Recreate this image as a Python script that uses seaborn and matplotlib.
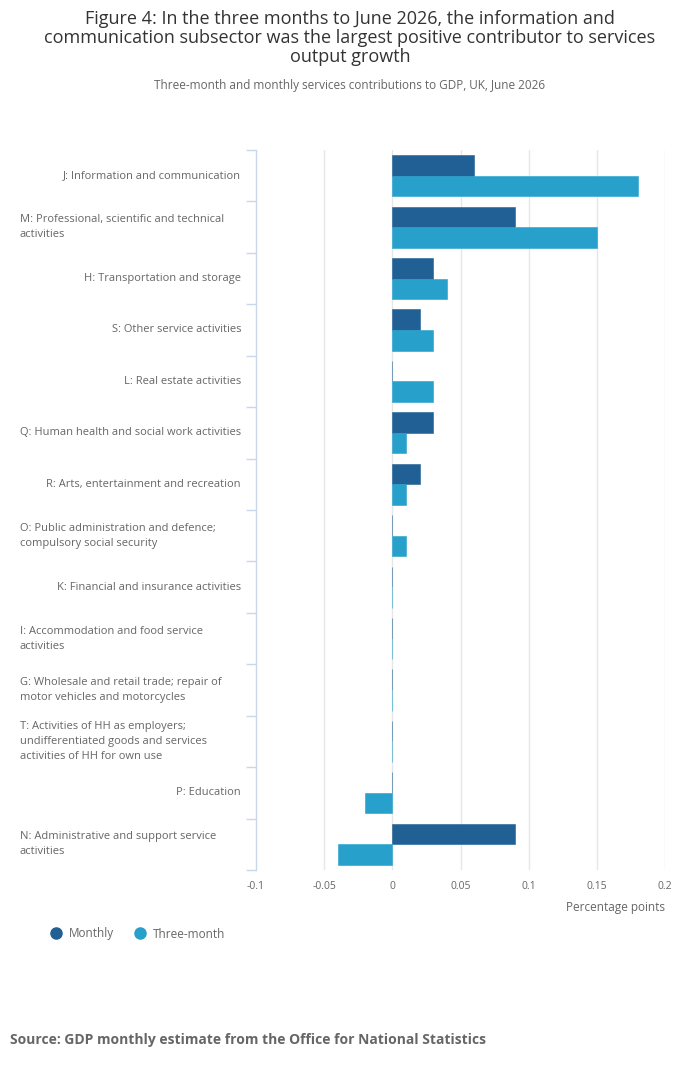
import matplotlib
matplotlib.use("Agg")
import matplotlib.pyplot as plt
import matplotlib.transforms as mtransforms
from matplotlib.lines import Line2D
import seaborn as sns
import pandas as pd
import numpy as np

categories = [
    "J: Information and communication",
    "M: Professional, scientific and technical\nactivities",
    "H: Transportation and storage",
    "S: Other service activities",
    "L: Real estate activities",
    "Q: Human health and social work activities",
    "R: Arts, entertainment and recreation",
    "O: Public administration and defence;\ncompulsory social security",
    "K: Financial and insurance activities",
    "I: Accommodation and food service\nactivities",
    "G: Wholesale and retail trade; repair of\nmotor vehicles and motorcycles",
    "T: Activities of HH as employers;\nundifferentiated goods and services\nactivities of HH for own use",
    "P: Education",
    "N: Administrative and support service\nactivities",
]
monthly = [0.06, 0.09, 0.03, 0.02, 0.0, 0.03, 0.02, 0.0, 0.0, 0.0, 0.0, 0.0, 0.0, 0.09]
three_month = [0.18, 0.15, 0.04, 0.03, 0.03, 0.01, 0.01, 0.01, 0.0, 0.0, 0.0, 0.0, -0.02, -0.04]
series_names = ["Monthly", "Three-month"]
x_ticks = [-0.1, -0.05, 0, 0.05, 0.1, 0.15, 0.2]
x_tick_labels = ["-0.1", "-0.05", "0", "0.05", "0.1", "0.15", "0.2"]

colors = {"Monthly": "#206095", "Three-month": "#27a0cc"}

df = pd.DataFrame({
    "category": categories * 2,
    "series": [series_names[0]] * len(categories) + [series_names[1]] * len(categories),
    "value": monthly + three_month,
})

sns.set_theme(style="white")
plt.rcParams["font.family"] = ["Open Sans", "DejaVu Sans"]

W, H = 700, 1067
fig = plt.figure(figsize=(7, 10.67), dpi=100)
ax = fig.add_axes([256 / W, 1 - 870 / H, (665 - 256) / W, (870 - 150) / H])

sns.barplot(data=df, y="category", x="value", hue="series", order=categories,
            hue_order=series_names, palette=colors, orient="h", width=0.8,
            ax=ax, legend=False, saturation=1, edgecolor=None, linewidth=0, zorder=3)
# thin outline so zero bars show as hairlines
for p in ax.patches:
    p.set_edgecolor(p.get_facecolor())
    p.set_linewidth(0.4)

ax.set_xlim(-0.1, 0.2)
ax.set_ylim(len(categories) - 0.5, -0.5)
ax.set_xticks(x_ticks)
ax.set_xticklabels(x_tick_labels, fontsize=7.5, color="#666666")
ax.tick_params(axis="x", length=0, pad=8)
for x in x_ticks[1:]:
    ax.axvline(x, color="#e6e6e6", lw=1, zorder=0)

for s in ["top", "right", "bottom"]:
    ax.spines[s].set_visible(False)
ax.spines["left"].set_color("#ccd6eb")
ax.spines["left"].set_linewidth(1)

ax.set_yticks([])
ax.set_yticks(np.arange(-0.5, len(categories), 1), minor=True)
ax.tick_params(axis="y", which="minor", length=7, color="#ccd6eb", width=1, left=True)
ax.set_ylabel("")
ax.set_xlabel("")

trans = mtransforms.blended_transform_factory(fig.transFigure, ax.transData)
for i, c in enumerate(categories):
    if "\n" in c:
        ax.text(20 / W, i, c, transform=trans, ha="left", va="center",
                fontsize=8, color="#666666", linespacing=1.5)
    else:
        ax.text(241 / W, i, c, transform=trans, ha="right", va="center",
                fontsize=8, color="#666666")

fig.text(665 / W, 1 - 907 / H, "Percentage points", ha="right", va="center",
         fontsize=8.5, color="#666666")

fig.text(0.5, 1 - 38 / H,
         "Figure 4: In the three months to June 2026, the information and\n"
         "communication subsector was the largest positive contributor to services\n"
         "output growth",
         ha="center", va="center", fontsize=13, color="#333333", linespacing=1.05)
fig.text(0.5, 1 - 86 / H,
         "Three-month and monthly services contributions to GDP, UK, June 2026",
         ha="center", va="center", fontsize=8.5, color="#666666")

handles = [Line2D([], [], marker="o", linestyle="", markersize=8,
                  markerfacecolor=colors[n], markeredgecolor=colors[n]) for n in series_names]
fig.legend(handles, series_names, loc="center left", bbox_to_anchor=(39 / W, 1 - 934 / H),
           frameon=False, ncol=2, fontsize=8.5, labelcolor="#666666",
           handletextpad=0.6, columnspacing=1.7, handlelength=1.0)

fig.text(10 / W, 1 - 1040 / H,
         "Source: GDP monthly estimate from the Office for National Statistics",
         ha="left", va="center", fontsize=10, fontweight="bold", color="#666666")

fig.savefig("out.png", dpi=100, facecolor="white")
